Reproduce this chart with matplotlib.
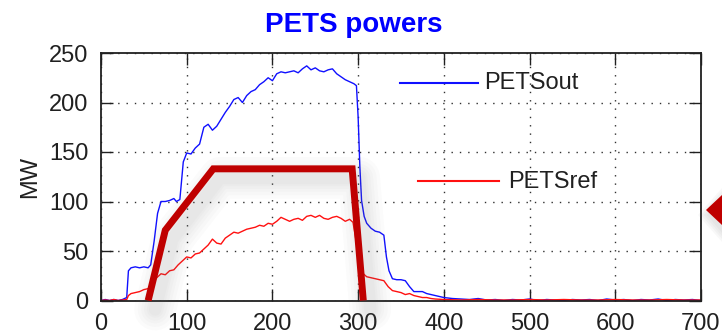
import matplotlib
matplotlib.use("Agg")
import matplotlib.pyplot as plt
from matplotlib.patches import Polygon
from matplotlib import transforms

plt.rcParams['font.family'] = ['Liberation Sans', 'DejaVu Sans']

# PETS output power (MW) vs time
out_t = [0, 5, 10, 15, 20, 25, 30, 32, 35, 40, 45, 50, 55, 58, 62, 66, 70, 75, 80, 85, 88, 92,
         96, 100, 105, 110, 115, 120, 125, 130, 135, 140, 145, 150, 155, 160, 165, 170, 175,
         180, 185, 190, 195, 200, 205, 210, 215, 220, 225, 230, 235, 240, 245, 250, 255, 260,
         265, 270, 275, 280, 285, 290, 295, 298, 300, 302, 304, 307, 310, 315, 320, 325, 330,
         333, 336, 340, 345, 350, 355, 360, 365, 370, 375, 380, 385, 390, 395, 400, 410, 420,
         430, 440, 450, 460, 470, 480, 490, 500, 510, 520, 530, 540, 550, 560, 570, 580, 590,
         600, 610, 620, 630, 640, 650, 660, 670, 680, 690, 700]
out_mw = [0, 1, 0, 1, 0, 1, 3, 30, 33, 34, 33, 34, 33, 36, 60, 88, 100, 100, 101, 103, 100, 102,
          140, 149, 148, 154, 158, 175, 178, 172, 176, 183, 190, 196, 203, 205, 200, 207, 211,
          213, 218, 221, 225, 222, 229, 231, 230, 231, 232, 230, 234, 237, 233, 235, 232, 231,
          233, 234, 229, 226, 223, 221, 219, 217, 185, 135, 101, 85, 78, 73, 70, 69, 66,
          44, 30, 22, 21, 21, 20, 14, 9, 9, 9, 7, 6, 5, 4, 3, 2, 1.5,
          1, 2, 0.5, 1, 0, 1, 0.5, 1.5, 0, 1, 0.5, 0, 1, 0.5, 1, 0, 1.5,
          0.5, 1, 0, 1, 0.5, 1.5, 0, 1, 0.5, 1, 0]

# PETS reference power (MW) vs time
ref_t = [0, 5, 10, 15, 20, 25, 30, 32, 35, 40, 45, 50, 55, 60, 65, 70, 75, 80, 85, 90, 95, 100,
         105, 110, 115, 120, 125, 130, 135, 140, 145, 150, 155, 160, 165, 170, 175, 180, 185,
         190, 195, 200, 205, 210, 215, 220, 225, 230, 235, 240, 245, 250, 255, 260, 265, 270,
         275, 280, 285, 290, 294, 298, 302, 306, 310, 315, 320, 325, 330, 335, 340, 345, 350,
         355, 360, 365, 370, 375, 380, 385, 390, 400, 420, 440, 460, 480, 500, 520, 540, 560,
         580, 600, 620, 640, 660, 680, 700]
ref_mw = [0, 0.5, 0, 1, 0, 0.5, 1, 5, 7, 8, 9, 11, 12, 18, 23, 27, 26, 30, 31, 36, 40, 44,
          43, 47, 48, 52, 56, 62, 58, 57, 63, 66, 69, 68, 70, 72, 73, 74, 76,
          75, 78, 77, 80, 84, 82, 80, 82, 83, 81, 85, 86, 84, 86, 83, 82, 84,
          85, 83, 80, 82, 79, 58, 31, 27, 24, 23, 22, 21, 20, 14, 10, 9, 8,
          6, 7, 5, 4, 3, 3, 2, 1.5, 1, 0.5, 1, 0.5, 0.5, 1, 0.5, 1, 0.5,
          0.5, 1, 0.5, 0.5, 1, 0.5, 0.5]

# hand-drawn highlight trace over the ramp and flat top
mark_t = [55, 75, 131, 293, 306]
mark_mw = [0, 71, 133, 133, 0]

fig = plt.figure(figsize=(7.22, 3.34), dpi=100)
ax = fig.add_axes([101 / 722, 33.5 / 334, 600 / 722, 247.5 / 334])

ax.plot(out_t, out_mw, color='#1010ff', lw=1.0)
ax.plot(ref_t, ref_mw, color='#ff1010', lw=1.0)

# soft drop shadow under the highlight trace
sh = transforms.offset_copy(ax.transData, fig=fig, x=7, y=-9, units='dots')
for w in [30, 25, 20, 16, 12, 9]:
    ax.plot(mark_t, mark_mw, color='#707070', lw=w, alpha=0.028,
            transform=sh, clip_on=False, solid_capstyle='round',
            solid_joinstyle='round', zorder=3)
ax.plot(mark_t, mark_mw, color='#bf0000', lw=5, clip_on=False,
        solid_capstyle='butt', solid_joinstyle='miter', zorder=4)

ax.set_xlim(0, 700)
ax.set_ylim(0, 250)
ax.set_xticks(range(0, 701, 100))
ax.set_yticks(range(0, 251, 50))
ax.grid(True, color='#303030', linestyle=(0, (1, 5)), lw=1.0)
ax.tick_params(direction='in', length=8.5, width=1.0, top=True, right=True,
               labelsize=17, colors='#202020', pad=9)
for s in ax.spines.values():
    s.set_linewidth(1.3)
    s.set_color('#202020')
ax.set_ylabel('MW', fontsize=17, color='#202020', labelpad=6)

# legend entries
ax.plot([0.498, 0.628], [0.879, 0.879], color='#1010ff', lw=1.5, transform=ax.transAxes)
ax.text(0.638, 0.879, 'PETSout', transform=ax.transAxes, fontsize=17,
        color='#202020', va='center', ha='left')
ax.plot([0.528, 0.663], [0.483, 0.483], color='#ff1010', lw=1.5, transform=ax.transAxes)
ax.text(0.678, 0.479, 'PETSref', transform=ax.transAxes, fontsize=17,
        color='#202020', va='center', ha='left')

fig.text(354 / 722, (334 - 31.7) / 334, 'PETS powers', fontsize=20, fontweight='bold',
         color='#0000ff', ha='center', va='baseline')

# arrow head pointing in from the right edge, with a faint glow
tip_x, tip_y = 706 / 722, (334 - 210) / 334
half_h = 15 / 334
for k in range(4):
    gx, gy = (4 - k) * 3 / 722, (4 - k) * 3 / 334
    fig.patches.append(Polygon([[tip_x - gx + 4 / 722, tip_y - 5 / 334],
                                [1.0, tip_y + half_h + gy - 5 / 334],
                                [1.0, tip_y - half_h - gy - 5 / 334]],
                               closed=True, color='#808080', alpha=0.05, lw=0,
                               transform=fig.transFigure, zorder=5))
fig.patches.append(Polygon([[tip_x, tip_y], [1.0, tip_y + half_h], [1.0, tip_y - half_h]],
                           closed=True, color='#bf0000', lw=0,
                           transform=fig.transFigure, zorder=6))

fig.savefig('out.png', dpi=100)
